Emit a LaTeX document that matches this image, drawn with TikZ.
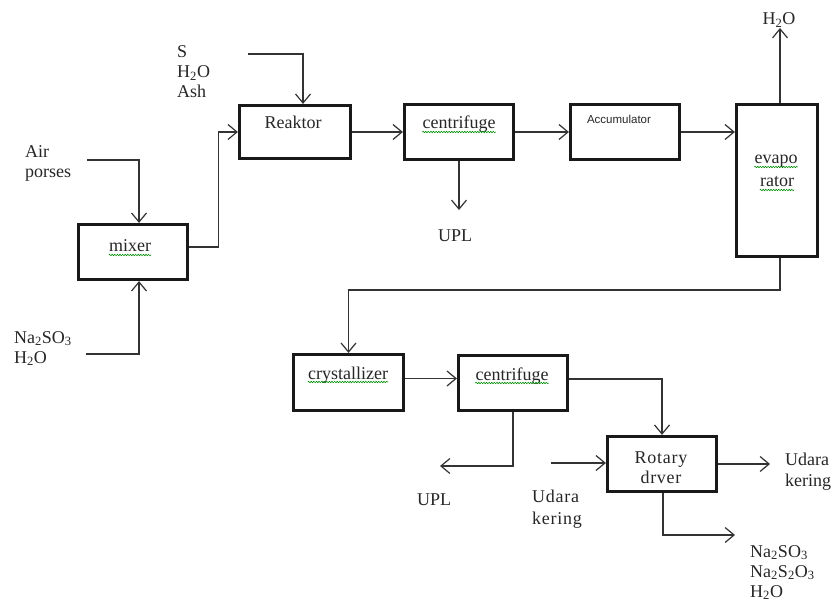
\documentclass[tikz,border=0pt]{standalone}
\usepackage{fontspec}
\setmainfont{Liberation Serif}
\newfontfamily\accfont{Liberation Sans}
\usetikzlibrary{arrows.meta,decorations.pathmorphing}
\newcommand\tsub[1]{\textsubscript{#1}}
\begin{document}
\begin{tikzpicture}[x=1pt,y=-1pt,
  box/.style={draw=black!90, line width=3.2pt, inner sep=0pt},
  flow/.style={draw=black!80, line width=1.2pt, -{Straight Barb[length=9pt,width=15pt,line width=1.2pt]}},
  txt/.style={inner sep=0pt, anchor=base, font=\fontsize{18}{20}\selectfont, text=black!85},
  lbl/.style={inner sep=0pt, anchor=base west, font=\fontsize{18}{20}\selectfont, text=black!85},
  spaced/.style={font=\fontsize{18}{20}\selectfont\addfontfeature{LetterSpace=4}},
  squig/.style={draw=green!55!black, line width=0.6pt, decorate,
    decoration={snake, segment length=2.6pt, amplitude=0.7pt}}]
\useasboundingbox (0,0) rectangle (832,601);

% boxes
\node[box, minimum width=109pt, minimum height=55pt] (mixer) at (133,252) {};
\node[box, minimum width=111pt, minimum height=53pt] (reaktor) at (295,132) {};
\node[box, minimum width=109pt, minimum height=55pt] (cent1) at (459,132) {};
\node[box, minimum width=109pt, minimum height=55pt] (acc) at (625,132) {};
\node[box, minimum width=81pt, minimum height=152pt] (evap) at (777,180.5) {};
\node[box, minimum width=110pt, minimum height=56pt] (cryst) at (348.5,382.5) {};
\node[box, minimum width=109pt, minimum height=55pt] (cent2) at (513,383) {};
\node[box, minimum width=109pt, minimum height=55pt] (rotary) at (662,464) {};

% box texts
\node[txt] (mixerT) at (130,252) {mixer};
\node[txt] (reaktorT) at (293,129) {Reaktor};
\node[txt] (cent1T) at (459,129) {centrifuge};
\node[txt, font=\accfont\fontsize{11.5}{13}\selectfont] (accT) at (619,124) {Accumulator};
\node[txt] (evapT1) at (776,164) {evapo};
\node[txt] (evapT2) at (777,187) {rator};
\node[txt] (crystT) at (348,379) {crystallizer};
\node[txt] (cent2T) at (512,380) {centrifuge};
\node[txt, spaced] (rotT1) at (661,463) {Rotary};
\node[txt, spaced] (rotT2) at (661,483) {drver};

% spell-check squiggles
\foreach \n in {mixerT,cent1T,evapT1,evapT2,crystT,cent2T}
  \draw[squig] ([yshift=-3pt]\n.base west) -- ([yshift=-3pt]\n.base east);

% outside labels
\node[lbl] (lS) at (177,58) {S};
\node[lbl] (lH2Oa) at (177,78) {H\tsub{2}O};
\node[lbl] (lAsh) at (177,98) {Ash};
\node[lbl] (lAir) at (25,158) {Air};
\node[lbl] (lPorses) at (25,178) {porses};
\node[lbl] (lNa) at (14,343) {Na\tsub{2}SO\tsub{3}};
\node[lbl] (lH2Ob) at (14,363) {H\tsub{2}O};
\node[txt] (lH2Oc) at (779,25) {H\tsub{2}O};
\node[lbl] (lUPL1) at (438,242) {UPL};
\node[lbl] (lUPL2) at (417,505) {UPL};
\node[lbl, spaced] (lUd1) at (532,502) {Udara};
\node[lbl, spaced] (lKe1) at (532,524) {kering};
\node[lbl] (lUd2) at (785,465) {Udara};
\node[lbl] (lKe2) at (785,486) {kering};
\node[lbl] (lP1) at (750,557) {Na\tsub{2}SO\tsub{3}};
\node[lbl] (lP2) at (750,577) {Na\tsub{2}S\tsub{2}O\tsub{3}};
\node[lbl] (lP3) at (750,597) {H\tsub{2}O};

% free ends
\coordinate (airS) at (87,160);
\coordinate (naS) at (86,354);
\coordinate (sS) at (248,54);
\coordinate (upl1) at (459,210);
\coordinate (h2oE) at (780,28);
\coordinate (upl2) at (440,466);
\coordinate (udIn) at (551,463);
\coordinate (udOut) at (770,464);
\coordinate (prodOut) at (735,535);

% connectors
\draw[flow] (airS) -| ([xshift=6pt]mixer.north);
\draw[flow] (naS) -| ([xshift=6pt]mixer.south);
\draw[flow] ([yshift=5pt]mixer.east) -- ++(29,0) |- (reaktor.west);
\draw[flow] (sS) -| ([xshift=8pt]reaktor.north);
\draw[flow] (reaktor.east) -- (cent1.west);
\draw[flow] (cent1.east) -- (acc.west);
\draw[flow] (acc.east) -- (acc.east -| evap.west);
\draw[flow] (cent1.south) -- (upl1);
\draw[flow] ([xshift=3pt]evap.north) -- (h2oE);
\draw[flow] ([xshift=3pt]evap.south) -- ++(0,32) -| (cryst.north);
\draw[flow] ([yshift=4pt]cryst.east) -- ([yshift=4pt]cryst.east -| cent2.west);
\draw[flow] ([yshift=4pt]cent2.east) -| (rotary.north);
\draw[flow] (cent2.south) |- (upl2);
\draw[flow] (udIn) -- (udIn -| rotary.west);
\draw[flow] (rotary.east) -- (udOut);
\draw[flow] ([xshift=1pt]rotary.south) |- (prodOut);
\end{tikzpicture}
\end{document}
